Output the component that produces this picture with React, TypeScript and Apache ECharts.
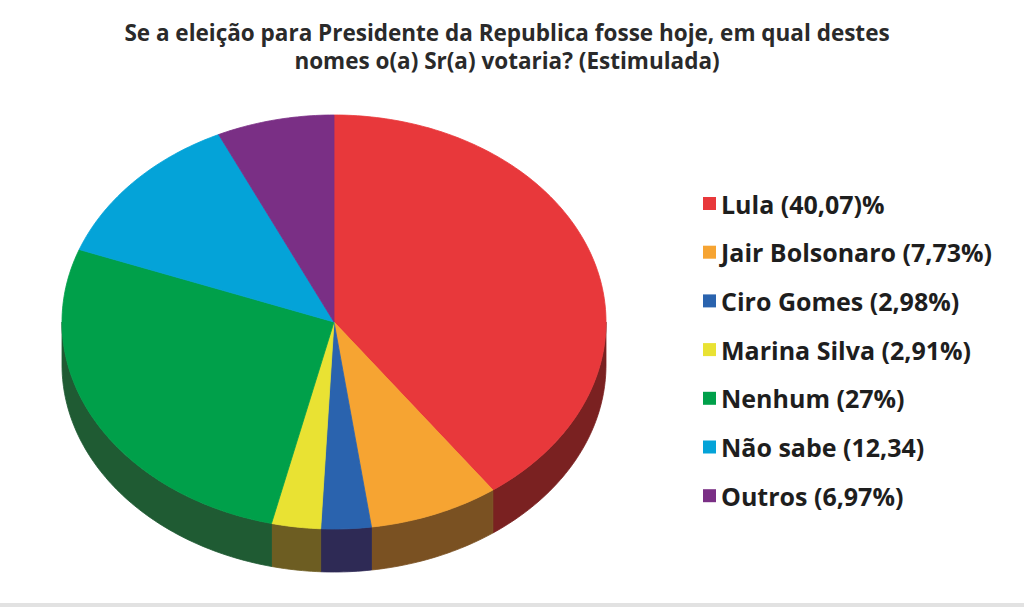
import React, { useEffect, useRef } from "react";
import * as echarts from "echarts";

const categories = [
  "Lula",
  "Jair Bolsonaro",
  "Ciro Gomes",
  "Marina Silva",
  "Nenhum",
  "Não sabe",
  "Outros",
];
const legendLabels = [
  "Lula (40,07)%",
  "Jair Bolsonaro (7,73%)",
  "Ciro Gomes (2,98%)",
  "Marina Silva (2,91%)",
  "Nenhum (27%)",
  "Não sabe (12,34)",
  "Outros (6,97%)",
];
const values = [40.07, 7.73, 2.98, 2.91, 27, 12.34, 6.97];
const topColors = ["#E8383B", "#F6A432", "#2A63AE", "#E9E233", "#00A04A", "#04A3D8", "#7A2F85"];
const sideColors = ["#7A2121", "#7A5122", "#2E2A55", "#6D5D22", "#1F5B33", "#1B5E7A", "#3F1E48"];

const TITLE = "Se a eleição para Presidente da Republica fosse hoje, em qual destes\nnomes o(a) Sr(a) votaria? (Estimulada)";

// geometry of the tilted pie
const CX = 334;
const CY = 322;
const RX = 272;
const RY = 207;
const DEPTH = 43;

const total = values.reduce((a, b) => a + b, 0);
const cumulative: number[] = [];
values.reduce((acc, v, i) => {
  cumulative[i] = acc;
  return acc + v;
}, 0);

function pt(theta: number, dy = 0): number[] {
  return [CX + RX * Math.sin(theta), CY - RY * Math.cos(theta) + dy];
}

function arc(a: number, b: number, dy = 0): number[][] {
  const pts: number[][] = [];
  const n = Math.max(2, Math.ceil(((b - a) * 180) / Math.PI));
  for (let k = 0; k <= n; k++) pts.push(pt(a + ((b - a) * k) / n, dy));
  return pts;
}

function angles(i: number, v: number) {
  const a = (cumulative[i] / total) * Math.PI * 2;
  const b = a + (v / total) * Math.PI * 2;
  return [a, b];
}

export default function App() {
  const ref = useRef<HTMLDivElement>(null);
  useEffect(() => {
    if (!ref.current) return;
    const chart = echarts.init(ref.current, null, { renderer: "svg" });
    chart.setOption({
      animation: false,
      backgroundColor: "#ffffff",
      title: {
        text: TITLE,
        left: 502,
        textAlign: "center",
        top: 13,
        textStyle: {
          fontFamily: "Open Sans",
          fontWeight: "bold",
          fontSize: 22.5,
          lineHeight: 28,
          color: "#2a2a2a",
        },
      },
      legend: {
        orient: "vertical",
        left: 703,
        top: 191,
        padding: 0,
        icon: "rect",
        itemWidth: 13,
        itemHeight: 13,
        itemGap: 23.7,
        itemTextGap: 6,
        data: categories,
        formatter: (name: string) => legendLabels[categories.indexOf(name)],
        textStyle: {
          fontFamily: "Open Sans",
          fontWeight: "bold",
          fontSize: 25,
          lineHeight: 24,
          color: "#1e1e1e",
        },
      },
      graphic: [
        {
          type: "rect",
          shape: { x: 0, y: 603, width: 1024, height: 4 },
          style: { fill: "#e2e2e2" },
        },
      ],
      series: [
        {
          type: "pie",
          center: [CX, CY],
          radius: [0, 0],
          silent: true,
          label: { show: false },
          labelLine: { show: false },
          data: categories.map((c, i) => ({ name: c, value: values[i], itemStyle: { color: topColors[i] } })),
        },
        {
          type: "custom",
          coordinateSystem: "none",
          silent: true,
          data: values.map((v) => [v]),
          renderItem: (params: any, api: any) => {
            const i = params.dataIndex;
            const [a, b] = angles(i, api.value(0));
            const s = Math.max(a, Math.PI / 2);
            const e = Math.min(b, (Math.PI * 3) / 2);
            if (e <= s) return { type: "group", children: [] };
            const top = arc(s, e);
            const bottom = arc(s, e, DEPTH).reverse();
            return {
              type: "polygon",
              shape: { points: top.concat(bottom) },
              style: { fill: sideColors[i], stroke: sideColors[i], lineWidth: 0.8 },
            };
          },
        },
        {
          type: "custom",
          coordinateSystem: "none",
          silent: true,
          data: values.map((v) => [v]),
          renderItem: (params: any, api: any) => {
            const i = params.dataIndex;
            const [a, b] = angles(i, api.value(0));
            const points = [[CX, CY]].concat(arc(a, b));
            return {
              type: "polygon",
              shape: { points },
              style: { fill: topColors[i], stroke: topColors[i], lineWidth: 0.8, lineJoin: "round" },
            };
          },
        },
      ],
    });
    return () => chart.dispose();
  }, []);
  return (
    <div
      ref={ref}
      style={{ position: "absolute", left: 0, top: 0, width: 1024, height: 607 }}
    />
  );
}
